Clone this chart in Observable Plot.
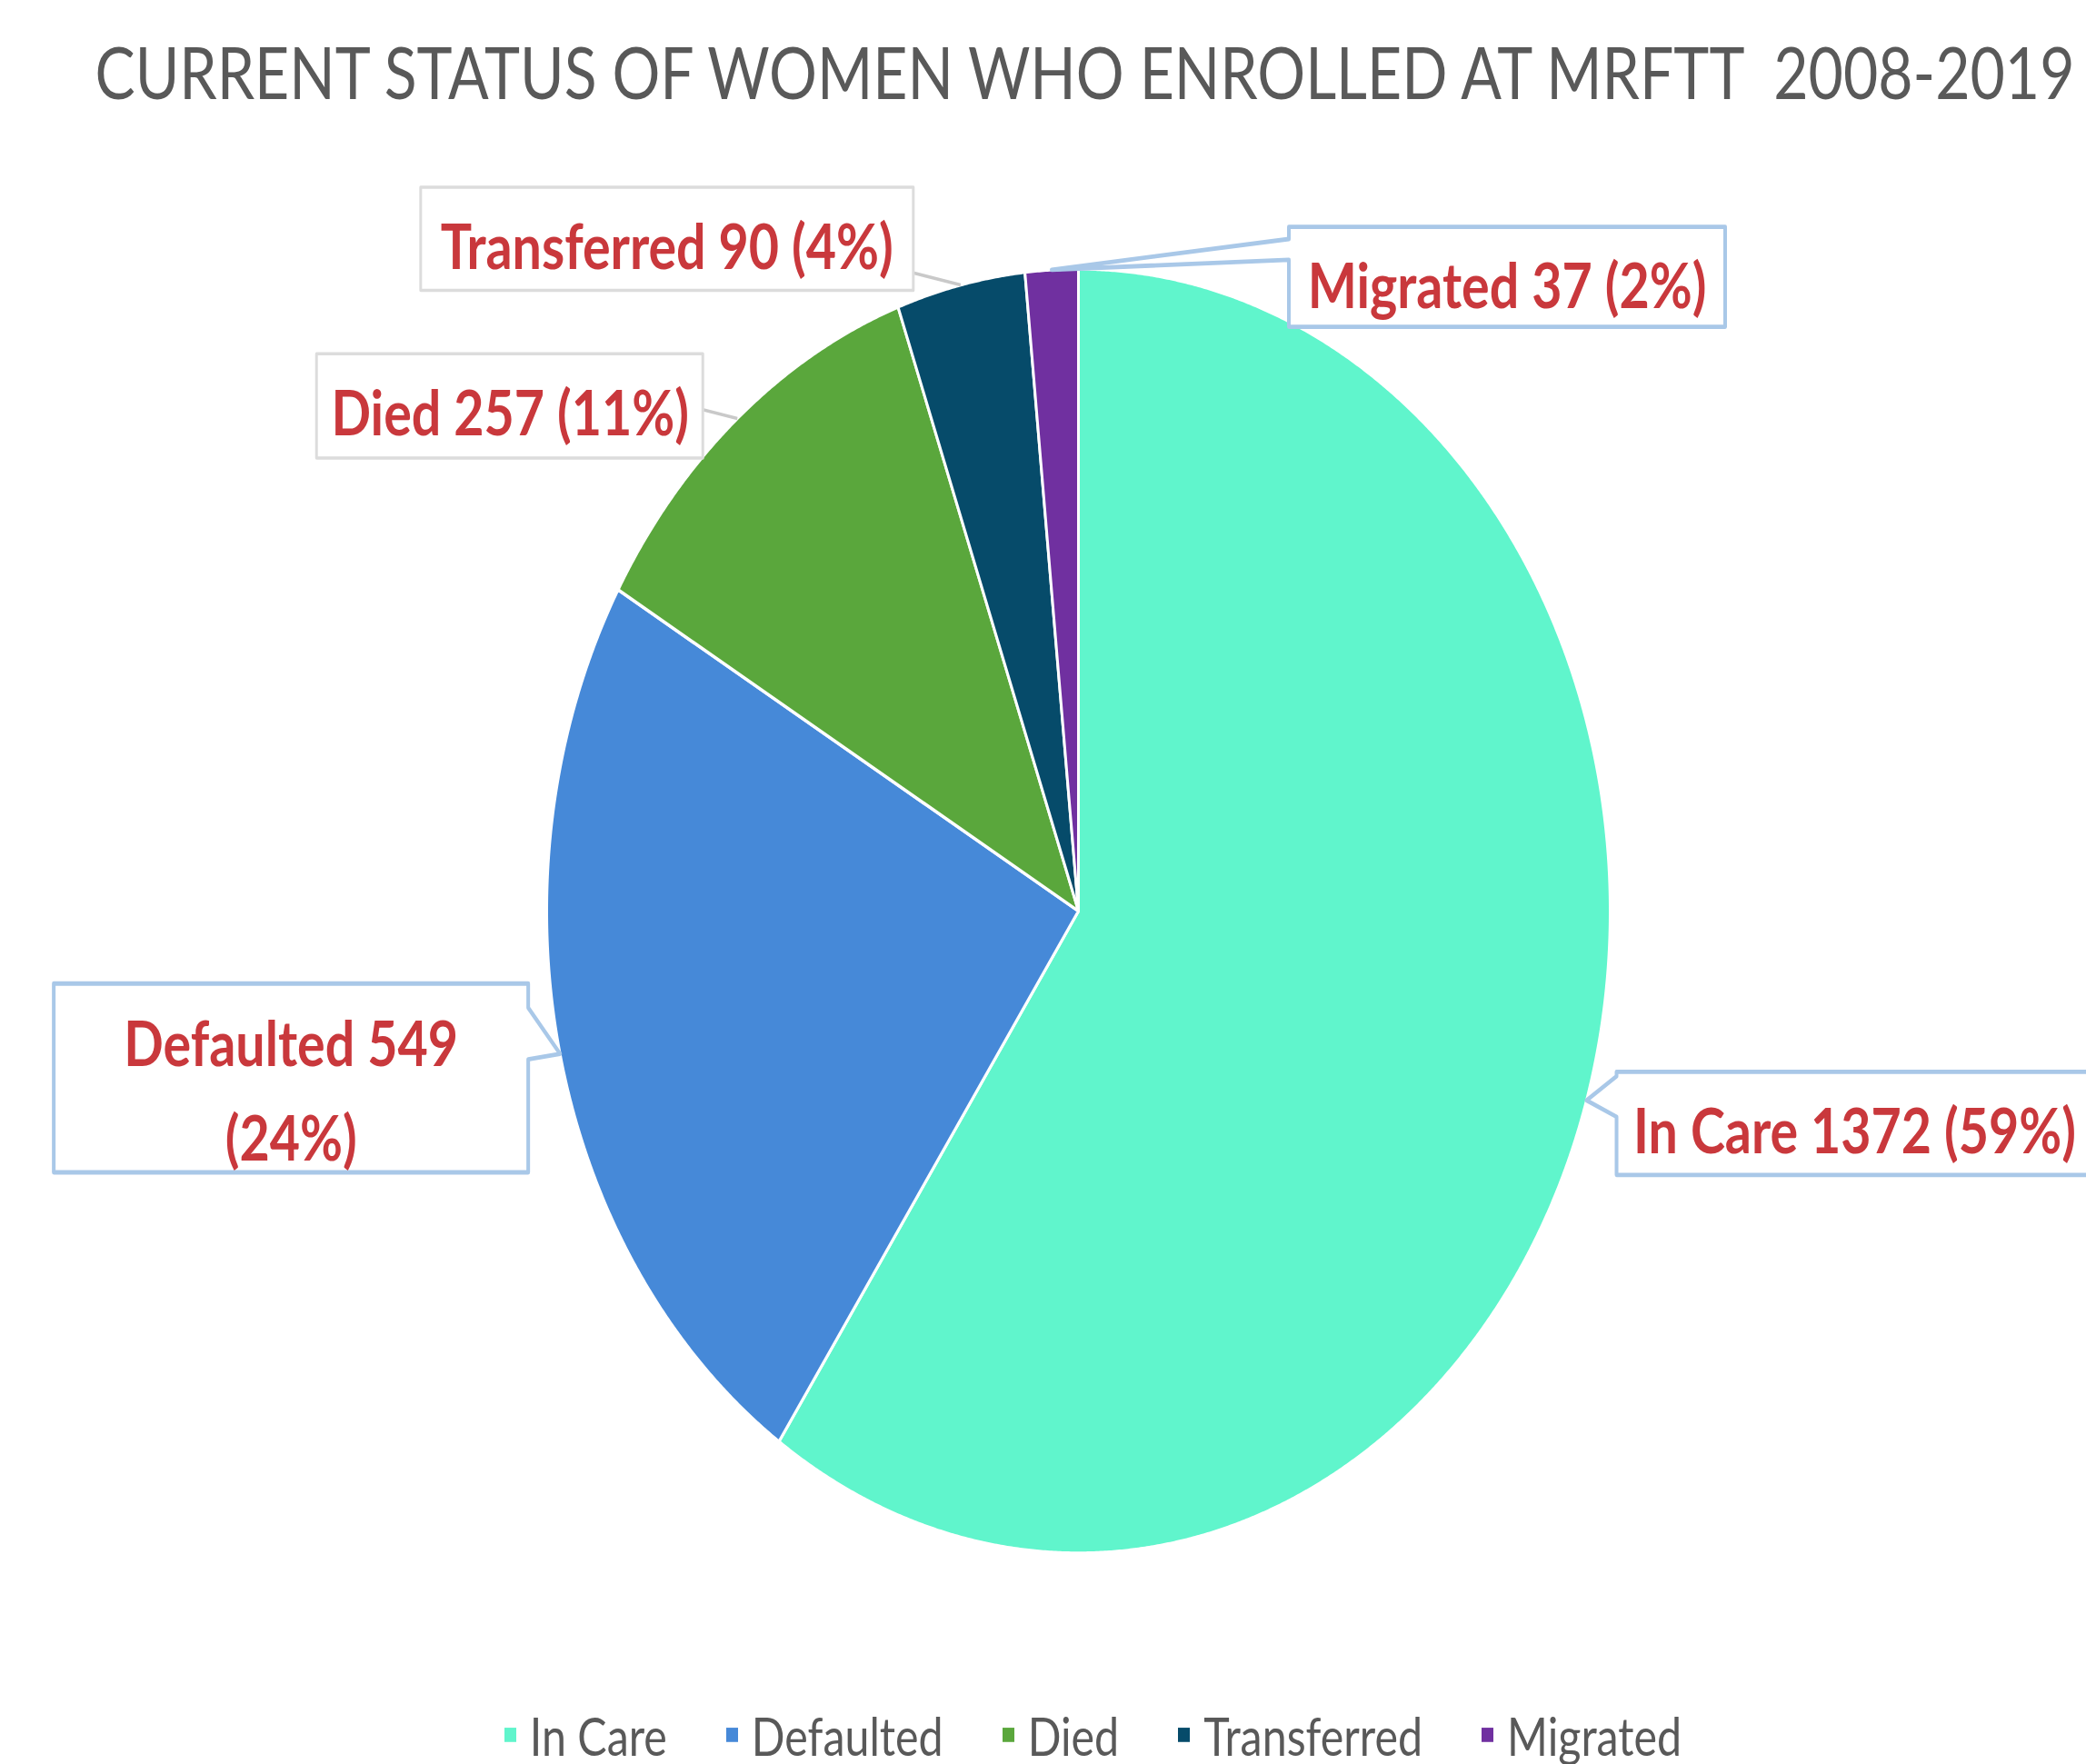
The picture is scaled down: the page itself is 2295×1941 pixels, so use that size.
<!DOCTYPE html>
<html>
<head>
<meta charset="utf-8">
<script src="https://cdn.jsdelivr.net/npm/d3@7"></script>
<script src="https://cdn.jsdelivr.net/npm/@observablehq/plot@0.6"></script>
<style>
html { margin: 0; padding: 0; background: #fff; overflow: hidden; }
body { margin: 0; padding: 0; background: #fff; width: 2295px; height: 1941px; }
#wrap { position: relative; width: 2295px; height: 1607px; transform: scaleY(1.2078); transform-origin: 0 0; }
#chart { position: absolute; left: 0; top: 0; }
#title { position: absolute; left: 46px; width: 2295px; text-align: center; font-family: Lato, sans-serif; color: #595959; white-space: pre; line-height: 1; }
#legend { position: absolute; left: 55px; width: 2295px; }
#legend .lg-swatches { font-family: Lato, sans-serif; color: #595959; margin: 0; line-height: 1.2; }
#legend .lg-swatches-wrap { justify-content: center; }
#legend .lg-swatch { margin-right: 65px; }
#legend .lg-swatch:last-child { margin-right: 0; }
#legend .lg-swatch > svg { margin-right: 15px; }
</style>
</head>
<body>
<div id="wrap"><div id="chart"></div><div id="title"></div><div id="legend"></div></div>
<script>
// ---- data ----
const categories = ["In Care", "Defaulted", "Died", "Transferred", "Migrated"];
const counts = [1372, 549, 257, 90, 37];
const percents = [59, 24, 11, 4, 2];
const colors = ["#60f5cc", "#4689d8", "#5aa73c", "#064b6a", "#7030a0"];
const titleText = "CURRENT STATUS OF WOMEN WHO ENROLLED AT MRFTT  2008-2019";
const labelTexts = ["In Care 1372 (59%)", "Defaulted 549\n(24%)", "Died 257 (11%)", "Transferred 90 (4%)", "Migrated 37 (2%)"];

// ---- layout (px, before vertical stretch) ----
const W = 2295, H = 1607, CX = 1186, CY = 829.5, R = 585;
// label boxes relative to the slice's outer edge point: box [dx1,dx2,dy1,dy2], text centre [dx,dy]
const labelLayout = [
  {box: [33, 565, -26, 68], text: [295, 21], border: "blue", notch: ["left", -22, 15]},
  {box: [-557, -35, -64, 108], text: [-296, 27], border: "blue", notch: ["right", -42, 5]},
  {box: [-463, -38, -59, 36], text: [-250, -12], border: "gray", leader: [-38, -8]},
  {box: [-594, -52, -89, 5], text: [-323, -42], border: "gray", leader: [-52, -11]},
  {box: [261, 741, -39, 52], text: [501, 7], border: "blue", notch: ["left", -28, -9]}
];

const ctx = document.createElement("canvas").getContext("2d");
function fitSize(text, weight, target) {
  ctx.font = `${weight} 100px Lato`;
  return 100 * target / ctx.measureText(text).width;
}

const data = categories.map((name, i) => ({name, count: counts[i], pct: percents[i]}));
const arcs = d3.pie().sort(null).value(d => d.count)(data);

// slice polygons in unit coordinates
const slicePts = [];
arcs.forEach(a => {
  const name = a.data.name;
  slicePts.push({name, x: 0, y: 0});
  const n = Math.max(4, Math.ceil((a.endAngle - a.startAngle) / 0.004));
  for (let i = 0; i <= n; i++) {
    const t = a.startAngle + (a.endAngle - a.startAngle) * i / n;
    slicePts.push({name, x: Math.sin(t), y: Math.cos(t)});
  }
  slicePts.push({name, x: 0, y: 0});
});

// label geometry
const boxPts = [], textRows = [], leaders = [];
arcs.forEach((a, i) => {
  const mid = (a.startAngle + a.endAngle) / 2;
  const tx = Math.sin(mid), ty = Math.cos(mid);
  const L = labelLayout[i];
  const P = (dx, dy) => [tx + dx / R, ty - dy / R];
  const [x1, x2, y1, y2] = L.box;
  const pts = [[x1, y1], [x2, y1]];
  if (L.notch && L.notch[0] === "right") pts.push([x2, L.notch[1]], [0, 0], [x2, L.notch[2]]);
  pts.push([x2, y2], [x1, y2]);
  if (L.notch && L.notch[0] === "left") pts.push([x1, L.notch[2]], [0, 0], [x1, L.notch[1]]);
  pts.push([x1, y1]);
  pts.forEach(([dx, dy]) => { const [x, y] = P(dx, dy); boxPts.push({name: a.data.name, border: L.border, x, y}); });
  const [lx, ly] = P(L.text[0], L.text[1]);
  textRows.push({x: lx, y: ly, text: labelTexts[i]});
  if (L.leader) {
    const [sx, sy] = P(L.leader[0], L.leader[1]);
    leaders.push({x1: sx, y1: sy, x2: tx, y2: ty});
  }
});

const labelSize = fitSize("In Care 1372 (59%)", "bold", 487);

const chart = Plot.plot({
  width: W,
  height: H,
  margin: 0,
  x: {domain: [-1, 1], range: [CX - R, CX + R], axis: null},
  y: {domain: [-1, 1], range: [CY + R, CY - R], axis: null},
  color: {domain: categories, range: colors},
  style: {background: "transparent"},
  marks: [
    Plot.line(slicePts, {x: "x", y: "y", z: "name", fill: "name", stroke: "white", strokeWidth: 3, strokeLinejoin: "round"}),
    Plot.link(leaders, {x1: "x1", y1: "y1", x2: "x2", y2: "y2", stroke: "#c9c9c9", strokeWidth: 3}),
    Plot.line(boxPts.filter(d => d.border === "gray"), {x: "x", y: "y", z: "name", fill: "white", stroke: "#dcdcdc", strokeWidth: 3}),
    Plot.line(boxPts.filter(d => d.border === "blue"), {x: "x", y: "y", z: "name", fill: "white", stroke: "#a9c8e8", strokeWidth: 4}),
    Plot.text(textRows, {x: "x", y: "y", text: "text", fill: "#c9383c", fontSize: labelSize, fontWeight: "bold", fontFamily: "Lato", lineHeight: 1.5})
  ]
});
document.getElementById("chart").appendChild(chart);

// title
const titleSize = fitSize(titleText, "normal", 2190);
const titleEl = document.getElementById("title");
titleEl.textContent = titleText;
titleEl.style.fontSize = titleSize + "px";
titleEl.style.top = (91 - 0.887 * titleSize) + "px";

// legend
const legendSize = fitSize("Transferred", "normal", 241);
const legend = Plot.legend({
  color: {type: "ordinal", domain: categories, range: colors},
  legend: "swatches",
  swatchSize: 13,
  className: "lg"
});
legend.style.fontSize = legendSize + "px";
const legendEl = document.getElementById("legend");
legendEl.appendChild(legend);
legendEl.style.top = (1581 - legendSize * 0.6) + "px";
</script>
</body>
</html>
